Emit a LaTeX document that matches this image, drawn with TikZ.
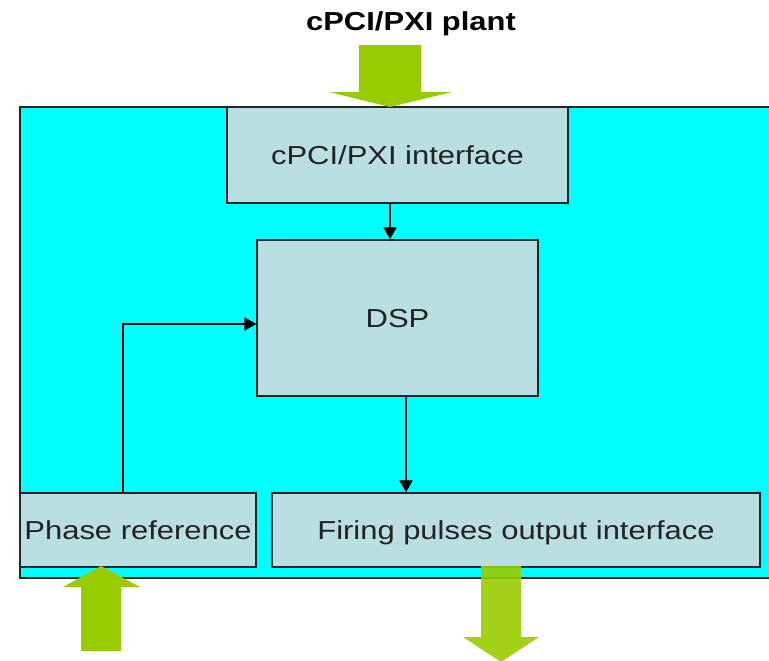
\documentclass[tikz,border=0pt]{standalone}
\usepackage{fontspec}
\newfontfamily\diagfont[FakeStretch=1.19]{Liberation Sans}
\usetikzlibrary{arrows.meta}
\definecolor{boardcyan}{HTML}{00FFFF}
\definecolor{boxfill}{HTML}{BADFE2}
\definecolor{arrowgreen}{HTML}{99CC00}
\definecolor{textgray}{HTML}{222222}
\tikzset{
  blockbox/.style={draw=black!85, line width=1.1pt, fill=boxfill, text=textgray,
    font=\diagfont\fontsize{19.5pt}{22pt}\selectfont, inner sep=0pt,
    text height=14pt, text depth=0pt},
  sigline/.style={draw=black, line width=0.9pt, -{Triangle[length=9pt,width=10pt]}},
  bigarrow/.style={fill=arrowgreen, draw=none}
}
\begin{document}
\begin{tikzpicture}[x=0.75pt,y=-0.75pt]
\clip (0,0) rectangle (769,661);
\fill[white] (0,0) rectangle (769,661);
% board
\draw[fill=boardcyan, draw=black!85, line width=1.1pt] (20,107) rectangle (790,578);
% blocks
\node[blockbox, minimum width=255.75pt, minimum height=72pt] (iface) at (397.5,155) {cPCI/PXI interface};
\node[blockbox, minimum width=210.75pt, minimum height=117pt] (dsp) at (397.5,318) {DSP};
\node[blockbox, minimum width=177pt, minimum height=55.5pt] (phase) at (138,530) {Phase reference};
\node[blockbox, minimum width=366pt, minimum height=55.5pt] (firing) at (516,530) {Firing pulses output interface};
% title
\node[anchor=base, font=\diagfont\bfseries\fontsize{19.5pt}{22pt}\selectfont] (plant) at (411,30) {cPCI/PXI plant};
% connectors
\draw[sigline] ([xshift=-5.6pt]iface.south) -- ([xshift=-5.6pt]dsp.north);
\draw[sigline] ([xshift=6.4pt]dsp.south) -- ([xshift=6.4pt]dsp.south |- firing.north);
\draw[sigline] ([xshift=-11.25pt]phase.north) |- ([yshift=-4.5pt]dsp.west);
% green block arrows
\fill[bigarrow] (359,45) -- (421,45) -- (421,92) -- (452,92) -- (390,107) -- (329,92) -- (359,92) -- cycle;
\fill[bigarrow] (81,651) -- (121,651) -- (121,587) -- (140,587) -- (101,566) -- (63,587) -- (81,587) -- cycle;
\fill[bigarrow, fill opacity=0.9] (481,566) -- (521,566) -- (521,637) -- (539,637) -- (501,662) -- (463,637) -- (481,637) -- cycle;
\end{tikzpicture}
\end{document}
